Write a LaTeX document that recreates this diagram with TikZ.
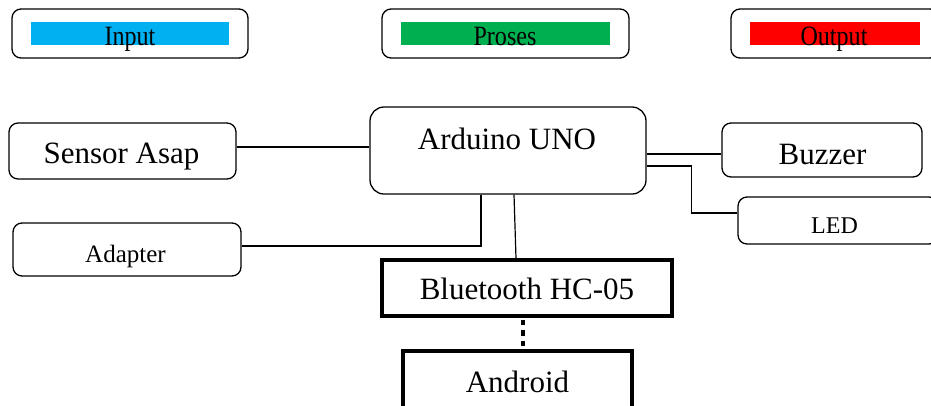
\documentclass[tikz,border=0pt]{standalone}
\usepackage{fontspec}
\setmainfont{Liberation Serif}
\definecolor{inblue}{HTML}{00B0F0}
\definecolor{prgreen}{HTML}{00B050}
\definecolor{outred}{HTML}{FF0000}
\newcommand{\narrow}[1]{\scalebox{0.86}[1]{#1}}
\begin{document}
\begin{tikzpicture}[x=1pt, y=-1pt,
  rbox/.style={draw, line width=1.3pt, rounded corners=9pt, inner sep=0pt},
  sbox/.style={draw, line width=3.2pt, inner sep=0pt},
  bar/.style={fill=#1, inner sep=0pt, minimum height=23pt},
  lbl/.style={anchor=base, inner sep=0pt, font=\fontsize{31}{36}\selectfont},
  small/.style={anchor=base, inner sep=0pt, font=\fontsize{25}{30}\selectfont},
  legend/.style={anchor=base, inner sep=0pt, font=\fontsize{28}{32}\selectfont},
  wire/.style={line width=1.2pt}]
\useasboundingbox (0,0) rectangle (931,405);
\clip (0,0) rectangle (931,405);

% legend
\node[rbox, minimum width=236pt, minimum height=49pt] (Input box) at (130,33.5) {};
\node[bar=inblue, minimum width=198pt] (Input bar) at (130,33.5) {};
\node[legend] (Input text) at (130,45.5) {\narrow{Input}};

\node[rbox, minimum width=247pt, minimum height=49pt] (Proses box) at (505.5,33.5) {};
\node[bar=prgreen, minimum width=209pt] (Proses bar) at (505.5,33.5) {};
\node[legend] (Proses text) at (505,45.5) {\narrow{Proses}};

\node[rbox, minimum width=208pt, minimum height=49pt] (Output box) at (835,33.5) {};
\node[bar=outred, minimum width=170pt] (Output bar) at (835,33.5) {};
\node[legend] (Output text) at (834,45.5) {\narrow{Output}};

% blocks
\node[rbox, minimum width=227pt, minimum height=56pt] (Sensor) at (122.5,151) {};
\node[lbl] (Sensor text) at (121.5,163) {Sensor Asap};

\node[rbox, rounded corners=14pt, minimum width=276pt, minimum height=87pt] (Arduino) at (508,150.5) {};
\node[lbl] (Arduino text) at (507,149) {Arduino UNO};

\node[rbox, minimum width=200pt, minimum height=54pt] (Buzzer) at (822,150) {};
\node[lbl] (Buzzer text) at (822.5,164) {Buzzer};

\node[rbox, minimum width=200pt, minimum height=47pt] (LED) at (838,220.5) {};
\node[small, font=\fontsize{24}{28}\selectfont] (LED text) at (834.5,233) {LED};

\node[rbox, minimum width=228pt, minimum height=53pt] (Adapter) at (127,249.5) {};
\node[small] (Adapter text) at (125.5,262) {Adapter};

\node[sbox, minimum width=290pt, minimum height=56pt] (Bluetooth) at (527,288) {};
\node[lbl] (Bluetooth text) at (527,299) {Bluetooth HC-05};

\node[sbox, minimum width=229pt, minimum height=64pt] (Android) at (517.5,383) {};
\node[lbl] (Android text) at (517.5,392) {Android};

% wires
\draw[wire] ([yshift=4pt]Sensor.east) -- ([yshift=4pt]Sensor.east -| Arduino.west);
\draw[wire] ([yshift=-4pt]Buzzer.west) -- ([yshift=-4pt]Buzzer.west -| Arduino.east);
\draw[wire] ([yshift=-15.5pt]Arduino.east) -- ++(45,0) |- ([yshift=7.5pt]LED.west);
\draw[wire] ([yshift=3.5pt]Adapter.east) -| ([xshift=-27pt]Arduino.south);
\draw[wire] ([xshift=6pt]Arduino.south) -- ([xshift=-11pt]Bluetooth.north);
\draw[line width=4.5pt, dash pattern=on 5.5pt off 5pt] ([xshift=-4pt,yshift=-2pt]Bluetooth.south) -- ([xshift=5.5pt,yshift=2pt]Android.north);

\end{tikzpicture}
\end{document}
